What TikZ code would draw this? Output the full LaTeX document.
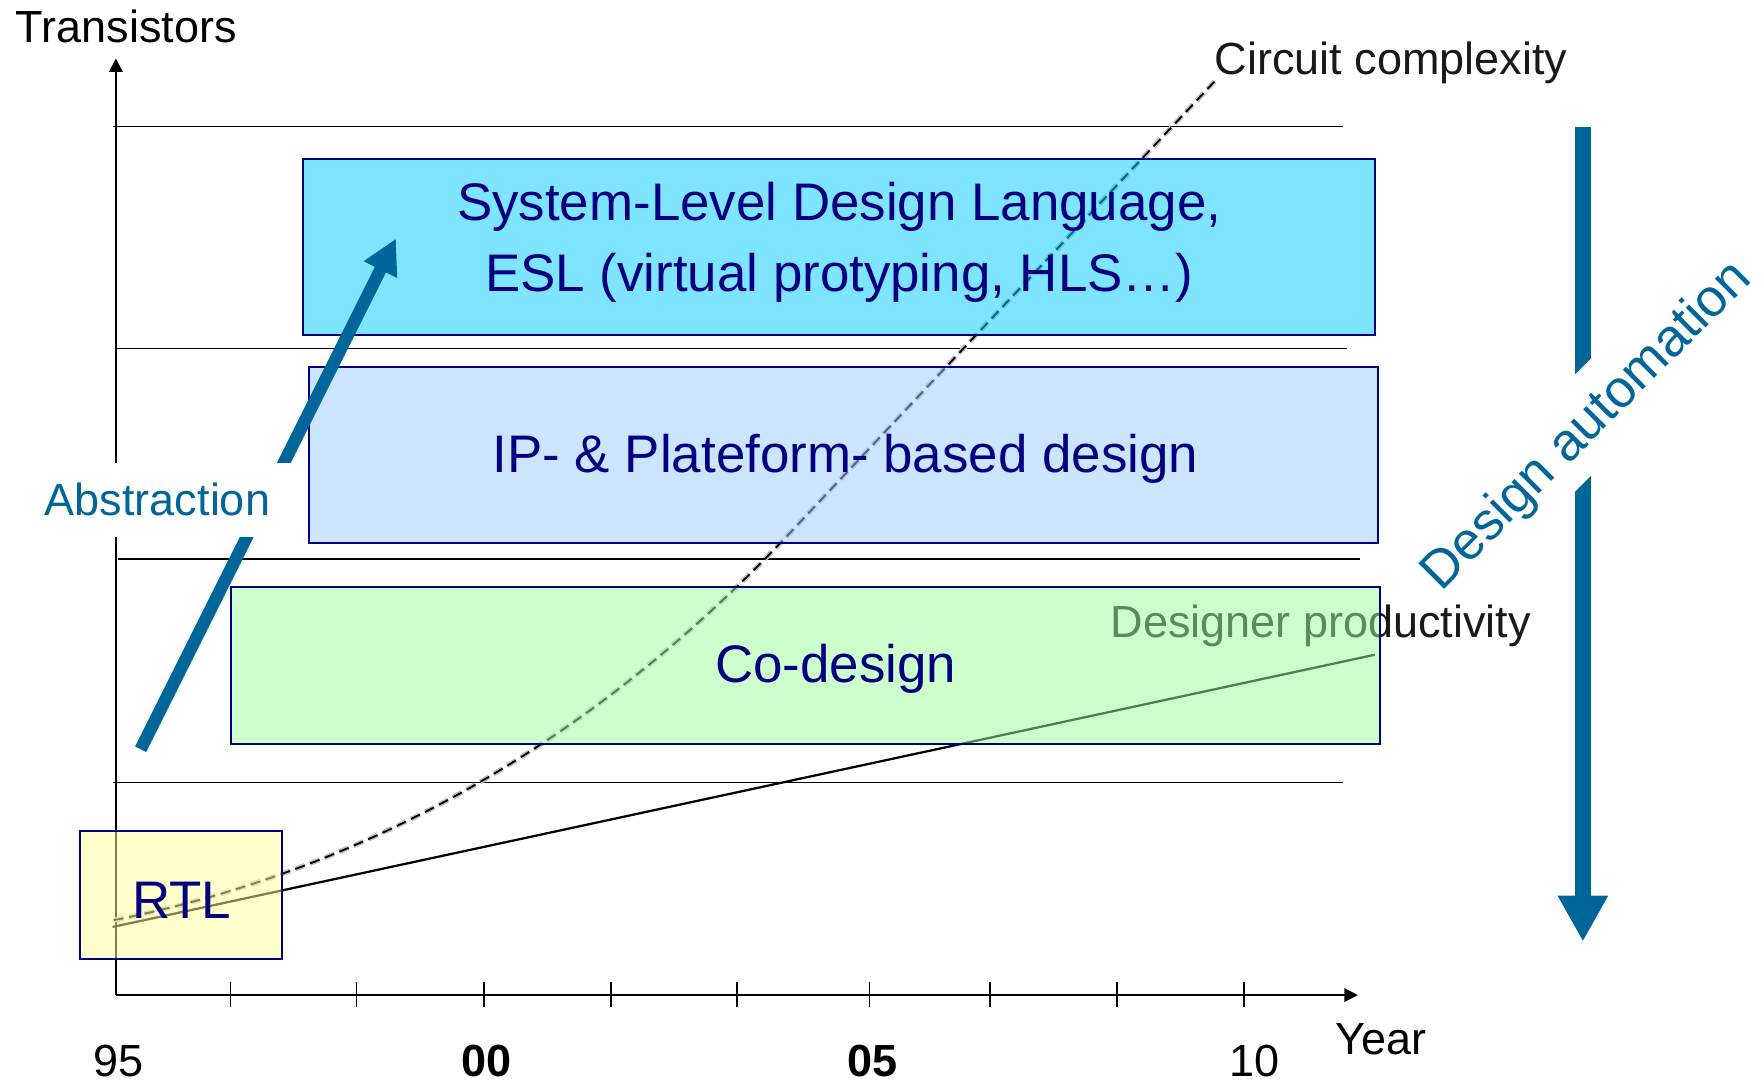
\documentclass[tikz,border=0pt]{standalone}
\usepackage{fontspec}
\setmainfont{Liberation Sans}
\usepackage{tikz}
\usetikzlibrary{arrows.meta}

\definecolor{edablue}{RGB}{0,102,153}
\definecolor{boxnavy}{RGB}{0,0,128}
\definecolor{eslfill}{RGB}{0,204,255}
\definecolor{ipfill}{RGB}{153,204,255}
\definecolor{cofill}{RGB}{153,255,153}
\definecolor{rtlfill}{RGB}{255,255,153}

\tikzset{
  layerbox/.style={draw=boxnavy, line width=0.9pt, fill opacity=0.5},
  boxtext/.style={text=boxnavy, font=\fontsize{23.5}{31.5}\selectfont, inner sep=0pt},
  axlabel/.style={font=\fontsize{20}{24}\selectfont, inner sep=0pt},
  levelline/.style={line width=0.6pt},
  trend/.style={dash pattern=on 4.5pt off 2.5pt},
  bigarrow/.style={draw=edablue, line width=7pt, -{Triangle[length=20.5pt,width=21pt]}},
  absarrow/.style={draw=edablue, line width=5.5pt, -{Triangle[length=15.5pt,width=15.5pt]}},
  axarrow/.style={line width=0.9pt, -{Triangle[length=6pt,width=6pt]}}
}

\begin{document}
\begin{tikzpicture}[x=0.5pt,y=-0.5pt]
\pgfmathsetmacro{\axisx}{103}
\pgfmathsetmacro{\axisy}{884.5}
\useasboundingbox (0,0) rectangle (1568,962);

\coordinate (da-top) at (1407,113);
\coordinate (da-tip) at (1407,837);
\draw[bigarrow] (da-top) -- (da-tip);
\node[fill=white, text=edablue, rotate=45, font=\fontsize{23.5}{28}\selectfont,
      text height=21pt, text depth=5pt, inner sep=5.4pt] (da-label) at (1408.5,376.5) {Design automation};

\coordinate (origin) at (\axisx,\axisy);
\coordinate (y-end) at (\axisx,52);
\coordinate (x-end) at (1207,\axisy);
\draw[axarrow] (origin) -- (y-end);
\draw[axarrow] (origin) -- (x-end);
\foreach \x in {205,317,430,543,655,773,880,993,1106}
  \draw[line width=0.7pt] (\x,873) -- (\x,895);

\draw[levelline] (100,112.5) -- (1194,112.5);
\draw[levelline] (103,310) -- (1197,310);
\draw[levelline] (105,497) -- (1209,497);
\draw[levelline] (100,695.5) -- (1194,695.5);

\draw[trend, black!25, line width=2.2pt] (101,818) .. controls (327,773) and (527,659) .. (700,476) -- (1080,72);
\draw[trend, black, line width=0.8pt] (101,818) .. controls (327,773) and (527,659) .. (700,476) -- (1080,72);
\draw[line width=1pt] (100,824) -- (1222,582);

\node[axlabel, anchor=base west] (transistors) at (13.6,37.6) {Transistors};
\node[axlabel, anchor=base west, text=black!90] (complexity) at (1079.5,65.8) {Circuit complexity};
\node[axlabel, anchor=base west, text=black!90] (productivity) at (987,567) {Designer productivity};
\node[axlabel, anchor=base west] (year) at (1187,937) {Year};
\node[axlabel, anchor=base] (y95) at (105,957) {95};
\node[axlabel, anchor=base] (y00) at (432.5,957) {\bfseries 00};
\node[axlabel, anchor=base] (y05) at (775.5,957) {\bfseries 05};
\node[axlabel, anchor=base] (y10) at (1115.5,957) {10};

\path[layerbox, fill=eslfill] (269,141) rectangle (1222.5,297.5);
\path[layerbox, fill=ipfill] (275,326) rectangle (1224.5,482.5);
\path[layerbox, fill=cofill] (205.5,522) rectangle (1227,661.5);
\path[layerbox, fill=rtlfill] (71.5,739) rectangle (250.5,852.5);

\node[boxtext, align=center] (esl) at (746,215.5) {System-Level Design Language,\\ESL (virtual protyping, HLS…)};
\node[boxtext, anchor=base] (ip) at (751.5,420) {IP- \& Plateform- based design};
\node[boxtext, anchor=base] (codesign) at (743,607) {Co-design};
\node[boxtext, anchor=base] (rtl) at (161.5,816) {RTL};

\coordinate (abs-start) at (125,666);
\coordinate (abs-tip) at (352,212);
\draw[absarrow] (abs-start) -- (abs-tip);
\node[fill=white, text=edablue, font=\fontsize{20}{24}\selectfont, text height=18pt, text depth=4.2pt,
      inner xsep=10pt, inner ysep=5.5pt] (abstraction) at (140,444.5) {Abstraction};
\end{tikzpicture}
\end{document}
